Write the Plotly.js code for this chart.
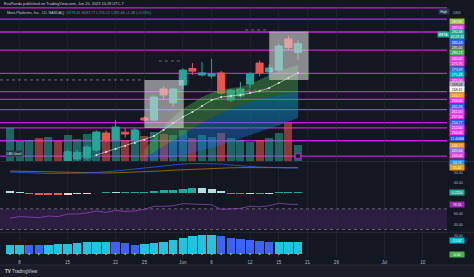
<!DOCTYPE html>
<html><head><meta charset="utf-8">
<script src="https://cdn.plot.ly/plotly-3.0.1.min.js"></script>
<style>html,body{margin:0;padding:0;background:#131722;overflow:hidden}#chart{width:474px;height:277px}</style>
</head><body><div id="chart"></div>
<script>
// ---------------- DATA ----------------
const dates = ['May 5','May 8','May 9','May 10','May 11','May 12','May 15','May 16','May 17','May 18','May 19','May 22','May 23','May 24','May 25','May 26','May 30','May 31','Jun 1','Jun 2','Jun 5','Jun 6','Jun 7','Jun 8','Jun 9','Jun 12','Jun 13','Jun 14','Jun 15','Jun 16','Jun 20'];
const futureDates = ['Jun 21','Jun 22','Jun 23','Jun 26','Jun 27','Jun 28','Jun 29','Jun 30','Jul 3','Jul 5','Jul 6','Jul 7','Jul 10','Jul 11','Jul 12','Jul 13'];
const tickDates = ['May 8','May 15','May 22','May 25','Jun 1','Jun 6','Jun 12','Jun 15','Jun 21','Jun 26','Jul 3','Jul 10'];
const tickText  = ['8','15','22','25','Jun','6','12','15','21','26','Jul','10'];

const open  = [230,232,231,232,231,235,235,238,238.4,241.4,248,245.3,248.3,245.3,253.8,253.0,265.0,259.6,266.5,272.9,270.4,270.0,271.2,260.7,262.3,266.9,275.0,271.6,272.3,284.3,279.16];
const high  = [233,234,234,235,236,236,241.5,241.5,243.5,249,249,253,250,250,254.5,262.5,266,265.5,273,275,275.4,276.6,272,265,267.7,271.5,276,274.5,282.5,285.5,283.77];
const low   = [228,230,230,229,230,230,234,237,237.5,240.8,244.5,244.8,246.2,244.5,252.5,252.8,261,258,265,270.4,269.8,269,262.8,260,261.5,265.5,270,270,271.5,280,276.22];
const close = [232,233,232.5,231.5,235,233,240.8,240.5,242.6,248.4,245.3,250.3,247.6,249.2,253.0,261.9,262.7,265.0,272.3,271.9,271.2,270.8,263.4,264.6,265.0,270.8,271.2,273.1,281.6,281.0,282.48];
const volumeM = [23.1,14,14.7,16.1,16.8,14,18.2,15.4,18.9,19.6,19.6,23.8,14.7,20.3,17.5,20.3,18.9,18.2,21.7,16.1,18.2,16.8,19.6,16.1,14.7,13.3,14.7,16.1,19.6,26.6,11.406];

const bandTop = [null,null,null,null,null,null,null,null,null,null,null,null,null,null,241.4,246.1,250.3,254.2,257.3,259.6,261.9,263.4,264.6,265.4,265.8,266.9,268.5,270.4,271.9,273.1,274.3];
const bandMid = [null,null,null,null,null,null,null,null,null,null,null,null,null,null,238.4,240.7,243,245.3,247.6,249.9,251.9,253.8,255.7,257.3,258.8,260,261.1,261.9,262.7,263.4,263.8];
const bandLow = [null,null,null,null,null,null,null,null,null,null,null,null,null,null,237.2,237.6,238.0,238.8,239.5,240.4,241.3,242.3,243.4,244.6,245.8,247.1,248.4,249.7,251.0,252.4,253.8];
const maLine  = [null,null,null,null,null,null,null,null,null,239.5,240.7,241.8,243.0,244.1,245.3,246.8,249.2,251.9,254.2,256.1,258.4,260.7,261.9,262.3,262.7,263.4,264.2,265.4,267.3,269.2,271.2];

const magentaLevels = [296.3,292.0,287.0,280.0,271.0,264.0,261.0,252.0,250.0,245.0,239.1];
const violetLevels = [257.0];

const boxStart = ['May 25','Jun 14'];
const boxEnd   = ['Jun 1','Jun 21'];
const boxTop   = [268.5,287.2];
const boxBottom= [249.9,268.5];

const dashFrom  = ['','May 30','Jun 12','Jun 9'];
const dashTo    = ['May 25','Jun 1','Jun 14','Jun 14'];
const dashLevel = [268.5,275.8,287.8,264.6];

const lineBlue   = [51,50.5,50,49.5,49.5,49.5,49.5,49.5,50,50.5,51,52,53,54,55.5,56.5,57.5,58.5,59,59.5,59.5,59.5,59,58,57,56.5,56,55.5,55.5,55,55];
const lineOrange = [52,51.8,51.5,51.2,51,50.8,50.5,50.3,50,50,50,50.2,50.5,50.8,51.2,51.7,52.2,52.8,53.3,53.8,54.2,54.6,55,55.2,55.4,55.5,55.4,55.4,55.42,55.42,55.42];

const histValues = [0.35,0.31,-0.22,-0.35,-0.40,-0.44,-0.40,-0.31,-0.22,0.05,0.13,0.13,0.18,0.22,0.26,0.44,0.57,0.70,0.88,1.06,1.01,0.88,0.44,-0.22,-0.26,-0.22,-0.24,-0.18,0.13,0.22,0.2214];

const rsiValues = [52,55,54,53,56,55,60,60,62,66,63,67,65,66,69,75,75,76,80,79,79,78,69,70,71,75,74,76,81,79,78.55];

const lowerValues = [10,10.3,10.3,10,10.3,10.7,11.4,12.2,12.9,13.7,13.7,13.7,12.2,10,10.7,12.2,13.7,15.6,18.1,19.6,20.7,20.7,19.6,17.8,16.3,15.6,14.4,13.3,13.6,13.6,13.62];
const lowerState  = ['up','up','down','down','up','up','up','up','up','up','up','down','down','down','up','up','up','up','up','up','up','up','down','down','down','down','down','down','up','up','up'];

// ---------------- LAYOUT HELPERS ----------------
const W = 474, H = 277;
const py = p => 1 - p / H;
const pxp = p => p / W;
const allDates = dates.concat(futureDates);
const X = d => allDates.indexOf(d);
const xs = dates.map((d, i) => i);
const FONT = 'Liberation Sans, Arial, sans-serif';
const plotRight = 447 / W;

function seg(arr) { const x = [], y = []; arr.forEach((v, i) => { if (v !== null) { x.push(i); y.push(v); } }); return {x, y}; }

const up = '#26a69a', dn = '#ef5350';
const volColors = close.map((c, i) => c >= open[i] ? 'rgba(38,166,154,0.55)' : 'rgba(239,83,80,0.55)');
const histColors = histValues.map((v, i) => {
  const p = i > 0 ? histValues[i - 1] : v + 0.01;
  if (v >= 0) return v > p ? '#26a69a' : '#b2dfdb';
  return v < p ? '#ff5252' : '#ffcdd2';
});
const lowerColors = lowerState.map(s => s === 'up' ? '#22c3de' : '#3d63f5');

const bl = seg(bandLow), bm = seg(bandMid), bt = seg(bandTop), ma = seg(maLine);

const traces = [
  {type:'bar', x: xs, y: volumeM, yaxis:'y', xaxis:'x', marker:{color: volColors, line:{width:0}}, width:0.84, hoverinfo:'skip'},
  {type:'scatter', mode:'lines', x: bl.x, y: bl.y, yaxis:'y6', line:{width:0, color:'rgba(0,0,0,0)'}, hoverinfo:'skip'},
  {type:'scatter', mode:'lines', x: bm.x, y: bm.y, yaxis:'y6', line:{width:0, color:'rgba(0,0,0,0)'}, fill:'tonexty',
    fillgradient:{type:'vertical', colorscale:[[0,'rgba(41,98,255,0.30)'],[1,'rgba(0,172,193,0.50)']]}, hoverinfo:'skip'},
  {type:'scatter', mode:'lines', x: bt.x, y: bt.y, yaxis:'y6', line:{width:0, color:'rgba(0,0,0,0)'}, fill:'tonexty', fillcolor:'rgba(76,175,80,0.42)', hoverinfo:'skip'},
  {type:'scatter', mode:'lines+markers', x: ma.x, y: ma.y, yaxis:'y6', line:{width:0.8, color:'rgba(230,235,235,0.75)'}, marker:{size:2, color:'rgba(240,240,240,0.9)'}, hoverinfo:'skip'},
  {type:'candlestick', x: xs, open, high, low, close, yaxis:'y6', xaxis:'x', whiskerwidth:0,
    increasing:{line:{color:up, width:1}, fillcolor:up}, decreasing:{line:{color:dn, width:1}, fillcolor:dn}, hoverinfo:'skip'},
  {type:'scatter', mode:'markers', x:[xs[xs.length-1]], y:[magentaLevels[magentaLevels.length-1]], yaxis:'y6',
    marker:{size:6, color:'#1d1b2e', line:{color:'#9c27b0', width:1.6}}, hoverinfo:'skip'},
  {type:'scatter', mode:'lines', x: xs, y: lineOrange, yaxis:'y2', line:{width:1, color:'rgba(255,152,0,0.55)'}, hoverinfo:'skip'},
  {type:'scatter', mode:'lines', x: xs, y: lineBlue, yaxis:'y2', line:{width:1, color:'rgba(41,98,255,0.75)'}, hoverinfo:'skip'},
  {type:'bar', x: xs, y: histValues, yaxis:'y3', marker:{color: histColors, line:{width:0}}, width:0.82, hoverinfo:'skip'},
  {type:'scatter', mode:'lines', x: xs, y: rsiValues, yaxis:'y4', line:{width:1, color:'rgba(150,70,190,0.75)'}, hoverinfo:'skip'},
  {type:'bar', x: xs, y: lowerValues, yaxis:'y5', marker:{color: lowerColors, line:{width:0}}, width:0.88, hoverinfo:'skip'},
  {type:'scatter', mode:'markers', x: xs, y: xs.map(() => 0), yaxis:'y5', marker:{size:2, color:'#8bc34a'}, hoverinfo:'skip'}
];

// ---------------- SHAPES ----------------
const shapes = [];
shapes.push({type:'rect', xref:'paper', x0:0, x1:plotRight, yref:'y4', y0:30, y1:70, fillcolor:'rgba(140,60,185,0.2)', line:{width:0}, layer:'below'});
[70, 30].forEach(v => shapes.push({type:'line', xref:'paper', x0:0, x1:plotRight, yref:'y4', y0:v, y1:v, line:{color:'#787b86', width:0.8, dash:'dot'}, layer:'below'}));
magentaLevels.forEach(v => shapes.push({type:'line', xref:'paper', x0:0, x1:plotRight, yref:'y6', y0:v, y1:v, line:{color:'#c81fdc', width:1.3}, layer:'below'}));
violetLevels.forEach(v => shapes.push({type:'line', xref:'paper', x0:0, x1:plotRight, yref:'y6', y0:v, y1:v, line:{color:'#6a52f0', width:1.3}, layer:'below'}));
dashLevel.forEach((v, i) => {
  const x0 = dashFrom[i] === '' ? -1.04 : X(dashFrom[i]) - 0.5;
  shapes.push({type:'line', xref:'x', x0: x0, x1: X(dashTo[i]), yref:'y6', y0:v, y1:v,
    line:{color: i === 3 ? 'rgba(200,140,70,0.7)' : 'rgba(150,153,160,0.8)', width:0.8, dash:'dot'}});
});
boxStart.forEach((d, i) => shapes.push({type:'rect', xref:'x', x0: X(d), x1: X(boxEnd[i]) + 0.1, yref:'y6', y0: boxBottom[i], y1: boxTop[i],
  fillcolor:'rgba(215,215,215,0.6)', line:{width:0}}));
[161.5, 232.3].forEach(p => shapes.push({type:'line', xref:'paper', x0:0, x1:1, yref:'paper', y0:py(p), y1:py(p), line:{color:'#242833', width:1}}));
shapes.push({type:'rect', xref:'paper', x0:0, x1:1, yref:'paper', y0:0, y1:py(265), fillcolor:'#1a1d27', line:{width:0}, layer:'below'});
shapes.push({type:'line', xref:'paper', x0:0, x1:1, yref:'paper', y0:py(265), y1:py(265), line:{color:'#2a2e39', width:1}});

// ---------------- ANNOTATIONS ----------------
const annotations = [];
annotations.push({xref:'paper', yref:'paper', x:pxp(2), y:py(3.4), xanchor:'left', yanchor:'middle', showarrow:false,
  text:'EvaPanda published on TradingView.com, Jun 20, 2023 10:29 UTC-7', font:{family:FONT, size:3.9, color:'#c3c6ce'}});
annotations.push({xref:'paper', yref:'paper', x:pxp(5), y:py(13.2), xanchor:'left', yanchor:'middle', showarrow:false,
  text:'Meta Platforms, Inc., 1D, NASDAQ  <span style="color:#26a69a">O279.16 H283.77 L276.22 C282.48 +1.48 (+0.53%)</span>',
  font:{family:FONT, size:3.7, color:'#c3c6ce'}});
annotations.push({xref:'paper', yref:'paper', x:pxp(5), y:py(153), xanchor:'left', yanchor:'middle', showarrow:false,
  text:'LBD level', bgcolor:'#1f3b3e', borderpad:0.6, font:{family:FONT, size:3.5, color:'#e0e3eb'}});
annotations.push({xref:'paper', yref:'paper', x:pxp(443.5), y:py(11), xanchor:'center', yanchor:'middle', showarrow:false,
  text:'High', bgcolor:'#27344f', width:9, height:4.6, borderpad:0.3, font:{family:FONT, size:3.4, color:'#e0e3eb'}});
annotations.push({xref:'paper', yref:'paper', x:pxp(443), y:py(34.7), xanchor:'center', yanchor:'middle', showarrow:false,
  text:'META', bgcolor:'#26a69a', width:10, height:4.6, borderpad:0.3, font:{family:FONT, size:3.4, color:'#ffffff'}});
annotations.push({xref:'paper', yref:'paper', x:pxp(3), y:py(271.5), xanchor:'left', yanchor:'middle', showarrow:false,
  text:'<b>TV</b> TradingView', font:{family:FONT, size:4.6, color:'#d1d4dc'}});

const M = '#e23cf3';
const priceLabels = [
  ['USD',12.7,null,'#b2b5be'],
  ['287.81',21.7,'#9fc43a','#fff'],
  ['287.00',27,M,'#fff'],
  ['282.48<br>02:29:11',34.7,'#26a69a','#fff'],
  ['282.48',42.7,'#2962ff','#fff'],
  ['285.00',47.7,'#5d606b','#fff'],
  ['280.13',52.7,'#4caf50','#fff'],
  ['280.00',58.3,M,'#fff'],
  ['275.75',63.3,'#f03ccf','#fff'],
  ['273.89',69,'#2962ff','#fff'],
  ['271.48',74,'#00acc1','#fff'],
  ['271.00',80,M,'#fff'],
  ['269.03',85,'#b2b5be','#131722'],
  ['268.45',90,'#ffffff','#131722'],
  ['265.77',95,'#ff9800','#fff'],
  ['264.00',100,M,'#fff'],
  ['261.93',106,'#2962ff','#fff'],
  ['261.00',111.3,M,'#fff'],
  ['257.00',116.7,M,'#fff'],
  ['254.77',122,'#2962ff','#fff'],
  ['252.00',127.3,M,'#fff'],
  ['250.00',132.7,M,'#fff'],
  ['11.406M',138,'#1e53e5','#fff'],
  ['245.77',145,'#ff9800','#fff'],
  ['245.04',150,'#9575cd','#fff'],
  ['245.00',155,M,'#fff'],
  ['33.19',162.3,'#2196f3','#fff'],
  ['55.42',167.3,'#ff9800','#fff'],
  ['0.2214',192.7,'#26a69a','#fff'],
  ['78.55',204,'#9c27b0','#fff'],
  [lowerValues[lowerValues.length-1].toFixed(2),240,'#00bcd4','#fff'],
  ['0.00',254,'#4caf50','#fff']
];
priceLabels.forEach(([t, p, bg, fg]) => {
  const two = t.indexOf('<br>') >= 0;
  annotations.push({xref:'paper', yref:'paper', x:pxp(456.7), y:py(p), xanchor:'center', yanchor:'middle', showarrow:false,
    text:t, bgcolor: bg || 'rgba(0,0,0,0)', width:14, height: two ? 8.8 : 4.7, borderpad:0.2,
    font:{family:FONT, size:3.5, color:fg}});
});

// ---------------- AXES ----------------
const dom = (a, b) => [py(b), py(a)];
const hiddenY = (domain, range) => ({domain, range, showgrid:false, zeroline:false, showticklabels:false, ticks:'', fixedrange:true, anchor:'x'});
const tickY = (domain, range, vals) => ({domain, range, showgrid:false, zeroline:false, anchor:'x', side:'right',
  tickvals: vals, ticktext: vals.map(v => v.toFixed(2)), ticks:'outside', ticklen:5, tickcolor:'rgba(0,0,0,0)',
  tickfont:{family:FONT, size:3.6, color:'#b2b5be'}, showline:false});

const layout = {
  width: W, height: H, margin:{l:0, r:0, t:0, b:0},
  paper_bgcolor:'#131722', plot_bgcolor:'rgba(0,0,0,0)',
  showlegend:false, hovermode:false, bargap:0, boxgap:0.14, boxgroupgap:0.14,
  xaxis:{domain:[0, plotRight], range:[-1.04, 45.52], anchor:'y5', showgrid:true, gridcolor:'rgba(42,46,57,0.45)', gridwidth:1,
    zeroline:false, showline:false, ticks:'', tickvals: tickDates.map(X), ticktext: tickText,
    tickfont:{family:FONT, size:4.6, color:'#b2b5be'}, rangeslider:{visible:false}, fixedrange:true},
  yaxis: hiddenY(dom(6, 161), [0, 109.2]),
  yaxis6: Object.assign(hiddenY(dom(6, 161), [237.19, 297.04]), {overlaying:'y'}),
  yaxis2: tickY(dom(162, 188), [35, 61], [40, 50]),
  yaxis3: hiddenY(dom(188, 198), [-1.1, 1.1]),
  yaxis4: tickY(dom(198, 232), [25.05, 91.07], [40, 60]),
  yaxis5: tickY(dom(232, 258), [-4.44, 24.44], [20]),
  shapes, annotations
};

Plotly.newPlot('chart', traces, layout, {staticPlot:true, displayModeBar:false});
</script>
</body></html>
